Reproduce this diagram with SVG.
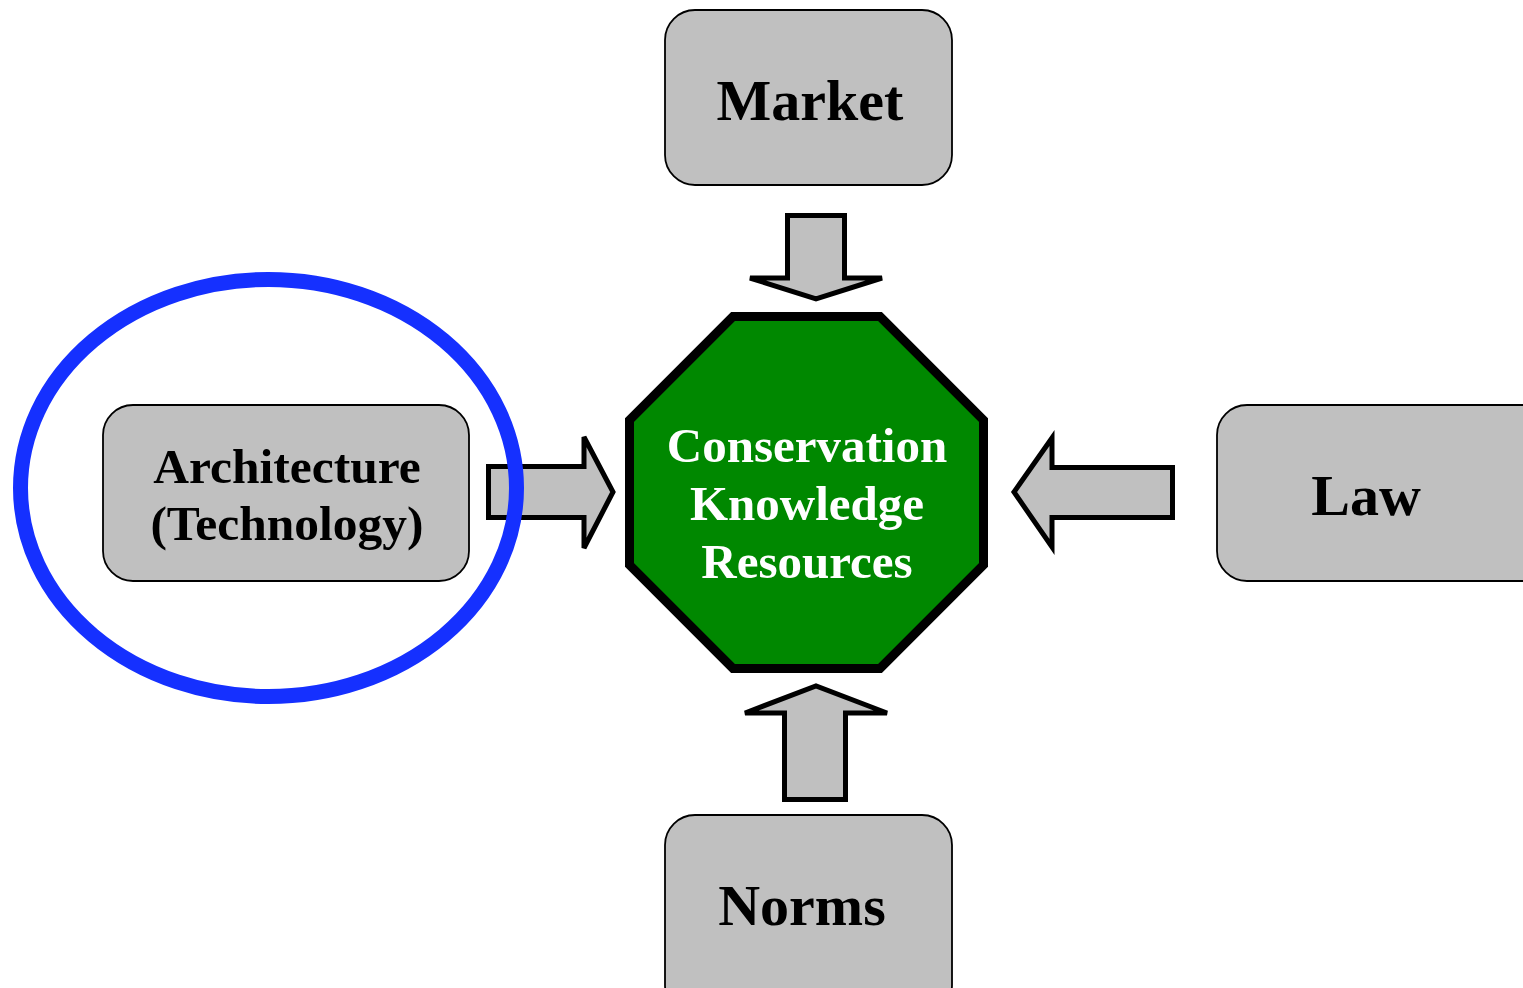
<svg xmlns="http://www.w3.org/2000/svg" width="1523" height="988" viewBox="0 0 1523 988">
<style>
.box{fill:#c0c0c0;stroke:#000;stroke-width:1.8}
.lbl{font-family:"Liberation Serif","Times New Roman",serif;font-weight:bold;fill:#000;text-anchor:middle}
.arr{fill:#c0c0c0;stroke:#000;stroke-width:5;stroke-linejoin:miter}
.ctr{font-family:"Liberation Serif","Times New Roman",serif;font-weight:bold;fill:#fff;text-anchor:middle;font-size:49px}
</style>
<rect width="1523" height="988" fill="#fff"/>
<g id="market">
<rect class="box" x="665" y="10" width="287" height="175" rx="30"/>
<text class="lbl" x="810" y="120" font-size="58">Market</text>
</g>
<g id="architecture">
<rect class="box" x="103" y="405" width="366" height="176" rx="30"/>
<text class="lbl" x="287" y="483" font-size="49.5">Architecture</text>
<text class="lbl" x="287" y="540" font-size="49.5">(Technology)</text>
</g>
<g id="law">
<rect class="box" x="1217" y="405" width="340" height="176" rx="30"/>
<text class="lbl" x="1366" y="515" font-size="58">Law</text>
</g>
<g id="norms">
<rect class="box" x="665" y="815" width="287" height="200" rx="30"/>
<text class="lbl" x="802" y="925" font-size="58">Norms</text>
</g>
<g id="center">
<polygon points="733,316.5 880,316.5 983.5,420 983.5,565 880,668.5 733,668.5 629.5,565 629.5,420" fill="#008800" stroke="#000" stroke-width="9"/>
<text class="ctr" x="807" y="462">Conservation</text>
<text class="ctr" x="807" y="520">Knowledge</text>
<text class="ctr" x="807" y="578">Resources</text>
</g>
<g id="connectors">
<polygon class="arr" points="787.5,215.5 844.5,215.5 844.5,278 882,278 816,299 750,278 787.5,278"/>
<polygon class="arr" points="488.5,466.5 584,466.5 584,437 613,492 584,548 584,517.5 488.5,517.5"/>
<polygon class="arr" points="1172.5,467.5 1052,467.5 1052,438 1014,492 1052,547 1052,517.5 1172.5,517.5"/>
<polygon class="arr" points="784.5,799.5 845.5,799.5 845.5,713 887,713 816,686 745,713 784.5,713"/>
</g>
<g id="highlight">
<ellipse cx="268.5" cy="488" rx="248" ry="208.5" fill="none" stroke="#1530ff" stroke-width="15"/>
</g>
</svg>
